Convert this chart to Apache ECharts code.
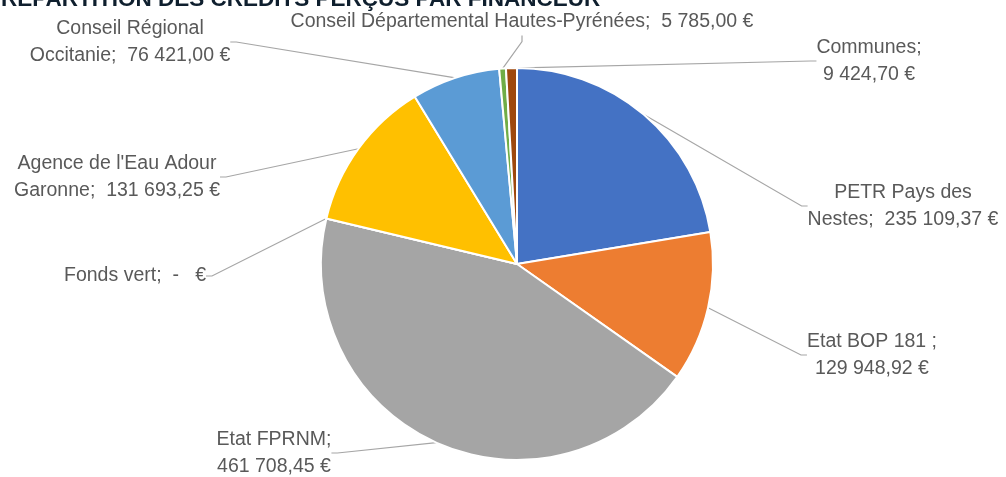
<!DOCTYPE html>
<html>
<head>
<meta charset="utf-8">
<script src="https://cdn.jsdelivr.net/npm/echarts@6/dist/echarts.min.js"></script>
<style>
html,body{margin:0;padding:0;background:#fff;}
#chart{width:1006px;height:477px;}
</style>
</head>
<body>
<div id="chart"></div>
<script>
// ---- data ----
const titleText = 'RÉPARTITION DES CRÉDITS PERÇUS PAR FINANCEUR';
const categories = [
  'PETR Pays des\nNestes',
  'Etat BOP 181 ',
  'Etat FPRNM',
  'Fonds vert',
  "Agence de l'Eau Adour\nGaronne",
  'Conseil Régional\nOccitanie',
  'Conseil Départemental Hautes-Pyrénées',
  'Communes'
];
const values = [235109.37, 129948.92, 461708.45, 0, 131693.25, 76421.00, 5785.00, 9424.70];
const sliceColors = ['#4472C4', '#ED7D31', '#A5A5A5', '#264478', '#FFC000', '#5B9BD5', '#70AD47', '#9E480E'];
// label wrapping: break the line after the ';'
const breakAfterSemicolon = [false, true, true, false, false, false, false, true];

// ---- layout (label anchor positions, centre of text block) ----
const labelPos = [
  [903, 206], [872, 355], [274, 453], [135, 276],
  [117, 177], [130, 42], [522, 22], [869, 61]
];

function fmt(v) {
  if (v === 0) return '-   €';
  const parts = v.toFixed(2).split('.');
  const intPart = parts[0].replace(/\B(?=(\d{3})+(?!\d))/g, ' ');
  return intPart + ',' + parts[1] + ' €';
}

const chart = echarts.init(document.getElementById('chart'));
chart.setOption({
  animation: false,
  title: {
    text: titleText,
    left: -4,
    top: -17,
    textStyle: { fontFamily: 'Liberation Sans', fontSize: 22.5, fontWeight: 'bold', color: '#0f1f2e' }
  },
  series: [{
    type: 'pie',
    center: [517, 264],
    radius: ['0%', 196],
    startAngle: 90,
    clockwise: true,
    avoidLabelOverlap: false,
    minShowLabelAngle: -1,
    itemStyle: { borderColor: '#ffffff', borderWidth: 2 },
    label: {
      show: true,
      position: 'outside',
      fontFamily: 'Liberation Sans',
      fontSize: 19.5,
      lineHeight: 27,
      color: '#595959',
      align: 'center',
      formatter: function (p) {
        const sep = breakAfterSemicolon[p.dataIndex] ? ';\n' : ';  ';
        return p.name + sep + fmt(p.value);
      }
    },
    labelLine: {
      show: true,
      length: 10,
      length2: 6,
      lineStyle: { color: '#A6A6A6', width: 1.2 }
    },
    labelLayout: function (params) {
      const pos = labelPos[params.dataIndex];
      return { x: pos[0], y: pos[1], align: 'center', verticalAlign: 'middle' };
    },
    data: categories.map(function (c, i) {
      return { name: c, value: values[i], itemStyle: { color: sliceColors[i] } };
    })
  }]
});
</script>
</body>
</html>
